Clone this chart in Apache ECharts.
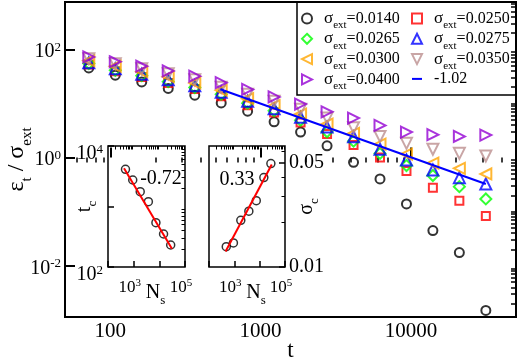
<!DOCTYPE html>
<html>
<head>
<meta charset="utf-8">
<title>eps_t / sigma_ext vs t</title>
<script src="https://cdn.jsdelivr.net/npm/echarts@6/dist/echarts.min.js"></script>
<style>
  html, body { margin: 0; padding: 0; background: #fff; }
  #main { width: 518px; height: 359px; }
</style>
</head>
<body>
<div id="main"></div>
<script>
  // main plot: eps_t / sigma_ext against t, one array per sigma_ext run
  var tSteps = [72, 108, 162, 243, 365, 547, 820, 1230, 1845, 2768, 4152, 6228, 9342, 14000, 21000, 31500];
  var eps0140 = [45.2, 33.2, 24.9, 18.9, 14.2, 10.2, 7.2, 4.57, 2.95, 1.65, 0.816, 0.402, 0.139, 0.0448, 0.0176, 0.0015];
  var eps0250 = [52.2, 39.3, 30.9, 23.9, 18.5, 13.6, 9.29, 6.81, 4.45, 2.71, 1.70, 1.0, 0.564, 0.277, 0.160, 0.0835];
  var eps0265 = [54.5, 41.0, 32.5, 25.2, 19.7, 14.8, 10.1, 7.35, 4.91, 2.99, 2.01, 1.19, 0.712, 0.466, 0.290, 0.172];
  var eps0275 = [56.4, 43.7, 34.6, 27.4, 21.1, 16.1, 11.0, 8.0, 5.58, 3.65, 2.42, 1.42, 0.90, 0.589, 0.425, 0.325];
  var eps0300 = [61.4, 48.6, 38.5, 31.1, 23.9, 17.5, 12.2, 9.09, 6.34, 4.15, 2.79, 1.77, 1.16, 0.792, 0.632, 0.497];
  var eps0350 = [66.8, 54.0, 43.7, 35.3, 27.4, 19.9, 14.8, 11.0, 7.83, 5.35, 3.57, 2.46, 1.83, 1.43, 1.195, 1.066];
  var eps0400 = [72.1, 58.8, 48.6, 39.8, 31.8, 24.1, 18.1, 13.2, 9.7, 6.98, 5.35, 3.92, 2.95, 2.65, 2.46, 2.60];
  // power-law guide, slope -1.02 (end points)
  var fitT = [540, 31500];
  var fitEps = [18.3, 0.325];

  // insets: t_c and sigma_c against N_s
  var nS = [480, 920, 1800, 3740, 7360, 14600, 27700];
  var tC = [4120, 2740, 1760, 1200, 540, 351, 231];
  var sigmaC = [0.0137, 0.0145, 0.0206, 0.0237, 0.0279, 0.0399, 0.0495];
  var tcFitN = [420, 31000];
  var tcFitT = [4280, 200];
  var scFitN = [450, 30000];
  var scFitS = [0.0127, 0.0488];

  // tick values
  var mainXMajor = [100, 1000, 10000];
  var mainYMajor = [0.01, 1, 100];
  var insetXMajor = [100, 1000, 10000, 100000];
  var insetXLabels = [1000, 100000];
  var tcMajor = [100, 1000, 10000];
  var tcLabels = [100, 10000];
  var scMajor = [0.01, 0.05];
  var scMinor = [0.02, 0.03, 0.04, 0.06];

  var FONT = "'Liberation Serif', 'DejaVu Serif', serif";
  // hollow triangles pointing left / right / down
  var TRI_LEFT = 'path://M10,0L0,5L10,10Z';
  var TRI_RIGHT = 'path://M0,0L10,5L0,10Z';
  var TRI_DOWN = 'path://M0,0L10,0L5,10Z';

  function lg(v) { return Math.log10(v); }
  function pairs(xs, ys) {
    return xs.map(function(x, i) { return [lg(x), lg(ys[i])]; });
  }
  // k x 10^n ticks inside [lo, hi] (log units)
  function logTicks(lo, hi) {
    var out = [];
    for (var e = Math.floor(lo); e <= Math.ceil(hi); e++) {
      for (var k = 1; k < 10; k++) {
        var v = e + Math.log10(k);
        if (v >= lo - 1e-9 && v <= hi + 1e-9) out.push(v);
      }
    }
    return out;
  }
  function notIn(majors) {
    var m = majors.map(lg);
    return function(v) {
      return m.every(function(x) { return Math.abs(x - v) > 1e-6; });
    };
  }
  function supLabel(v) {
    return '{b|10}{p|' + Math.round(v) + '}';
  }
  function supRich(big, small) {
    return {
      b: { fontFamily: FONT, fontSize: big, lineHeight: big + 2, color: '#000' },
      p: { fontFamily: FONT, fontSize: small, lineHeight: small, verticalAlign: 'top', color: '#000' }
    };
  }
  // main text + lowered subscript
  function subRich(big, small, lh) {
    return {
      n: { fontFamily: FONT, fontSize: big, lineHeight: lh, color: '#000' },
      s: { fontFamily: FONT, fontSize: small, lineHeight: small, verticalAlign: 'bottom', color: '#000' }
    };
  }

  var yLo = -2.945, yHi = 2.873;
  var xLo = lg(50), xHi = lg(50000);

  function plainAxis(g, lo, hi) {
    return {
      type: 'value', gridIndex: g, min: lo, max: hi,
      axisLine: { show: false }, splitLine: { show: false },
      nameMoveOverlap: false
    };
  }

  var xAxes = [];
  var yAxes = [];

  // main x
  var ax = plainAxis(0, xLo, xHi);
  ax.axisTick = { inside: true, length: 10, lineStyle: { color: '#000', width: 2 }, customValues: mainXMajor.map(lg) };
  ax.axisLabel = { customValues: mainXMajor.map(lg), margin: 4, fontFamily: FONT, fontSize: 21, color: '#000',
    formatter: function(v) { return String(Math.round(Math.pow(10, v))); } };
  ax.name = 't';
  ax.nameLocation = 'middle';
  ax.nameGap = 22;
  ax.nameTextStyle = { fontFamily: FONT, fontSize: 23, color: '#000' };
  xAxes.push(ax);
  ax = plainAxis(0, xLo, xHi);
  ax.axisLabel = { show: false };
  ax.axisTick = { inside: true, length: 5, lineStyle: { color: '#000', width: 1.5 },
    customValues: logTicks(xLo, xHi).filter(notIn(mainXMajor)) };
  xAxes.push(ax);

  // main y
  ax = plainAxis(0, yLo, yHi);
  ax.axisTick = { inside: true, length: 10, lineStyle: { color: '#000', width: 2 }, customValues: mainYMajor.map(lg) };
  ax.axisLabel = { customValues: mainYMajor.map(lg), margin: 4, formatter: supLabel, rich: supRich(20, 13),
    padding: [5, 0, 0, 0] };
  ax.name = '{n|ε}{s|t}{n| / σ}{s|ext}';
  ax.nameLocation = 'middle';
  ax.nameRotate = 90;
  ax.nameGap = 30;
  ax.nameTextStyle = { rich: subRich(24, 15, 36) };
  yAxes.push(ax);
  ax = plainAxis(0, yLo, yHi);
  ax.axisLabel = { show: false };
  ax.axisTick = { inside: true, length: 5, lineStyle: { color: '#000', width: 1.5 },
    customValues: logTicks(yLo, yHi).filter(notIn(mainYMajor)) };
  yAxes.push(ax);

  // insets: grid 1 = t_c, grid 2 = sigma_c, same N_s axis
  [1, 2].forEach(function(g) {
    var a = plainAxis(g, 2, 5);
    a.axisTick = { inside: true, length: 6, lineStyle: { color: '#000', width: 1.5 }, customValues: insetXMajor.map(lg) };
    a.axisLabel = { customValues: insetXLabels.map(lg), margin: 11, formatter: supLabel, rich: supRich(17, 11),
      padding: [0, 8, 0, 0] };
    a.name = '{n|N}{s|s}';
    a.nameLocation = 'middle';
    a.nameGap = 12;
    a.nameTextStyle = { rich: subRich(20, 13, 28), padding: [0, 0, 0, 18] };
    xAxes.push(a);
    a = plainAxis(g, 2, 5);
    a.axisLabel = { show: false };
    a.axisTick = { inside: true, length: 3.5, lineStyle: { color: '#000', width: 1 },
      customValues: logTicks(2, 5).filter(notIn(insetXMajor)) };
    xAxes.push(a);
  });

  ax = plainAxis(1, 2, 4);
  ax.axisTick = { inside: true, length: 6, lineStyle: { color: '#000', width: 1.5 }, customValues: tcMajor.map(lg) };
  ax.axisLabel = { customValues: tcLabels.map(lg), margin: 5, formatter: supLabel, rich: supRich(20, 13),
    padding: [16, 0, 0, 0] };
  ax.name = '{n|t}{s|c}';
  ax.nameLocation = 'middle';
  ax.nameRotate = 90;
  ax.nameGap = 9;
  ax.nameTextStyle = { rich: subRich(20, 13, 28) };
  yAxes.push(ax);
  ax = plainAxis(1, 2, 4);
  ax.axisLabel = { show: false };
  ax.axisTick = { inside: true, length: 3.5, lineStyle: { color: '#000', width: 1 },
    customValues: logTicks(2, 4).filter(notIn(tcMajor)) };
  yAxes.push(ax);

  var scLo = lg(0.01), scHi = lg(0.065);
  ax = plainAxis(2, scLo, scHi);
  ax.position = 'right';
  ax.axisTick = { inside: true, length: 6, lineStyle: { color: '#000', width: 1.5 }, customValues: scMajor.map(lg) };
  ax.axisLabel = { customValues: scMajor.map(lg), margin: 4, fontFamily: FONT, fontSize: 20, color: '#000',
    padding: [4, 0, 0, 0], formatter: function(v) { return Math.pow(10, v).toFixed(2); } };
  ax.name = '{n|σ}{s|c}';
  ax.nameLocation = 'middle';
  ax.nameRotate = 90;
  ax.nameGap = 8;
  ax.nameTextStyle = { rich: subRich(20, 13, 28) };
  yAxes.push(ax);
  ax = plainAxis(2, scLo, scHi);
  ax.position = 'right';
  ax.axisLabel = { show: false };
  ax.axisTick = { inside: true, length: 3.5, lineStyle: { color: '#000', width: 1 }, customValues: scMinor.map(lg) };
  yAxes.push(ax);

  function runSeries(name, ys, symbol, size, color) {
    return {
      type: 'scatter', name: name, xAxisIndex: 0, yAxisIndex: 0,
      data: pairs(tSteps, ys), symbol: symbol, symbolSize: size,
      itemStyle: { color: 'rgba(0,0,0,0)', borderColor: color, borderWidth: 2 },
      silent: true
    };
  }

  var series = [
    runSeries('0.0140', eps0140, 'circle', 9, '#000000'),
    runSeries('0.0250', eps0250, 'rect', 8, '#ff0000'),
    runSeries('0.0265', eps0265, 'diamond', 11, '#00ff00'),
    runSeries('0.0275', eps0275, 'triangle', 11, '#0000ff'),
    runSeries('0.0300', eps0300, TRI_LEFT, 11, '#ffa500'),
    runSeries('0.0350', eps0350, TRI_DOWN, 11, '#bc8f8f'),
    runSeries('0.0400', eps0400, TRI_RIGHT, 11, '#9400d3'),
    {
      type: 'line', name: '-1.02', xAxisIndex: 0, yAxisIndex: 0,
      data: pairs(fitT, fitEps), symbol: 'none',
      lineStyle: { color: '#0000ff', width: 2 }, silent: true
    },
    {
      type: 'line', name: 'tcFit', xAxisIndex: 2, yAxisIndex: 2,
      data: pairs(tcFitN, tcFitT), symbol: 'none',
      lineStyle: { color: '#ff0000', width: 2 }, silent: true
    },
    {
      type: 'scatter', name: 'tc', xAxisIndex: 2, yAxisIndex: 2,
      data: pairs(nS, tC), symbol: 'circle', symbolSize: 8,
      itemStyle: { color: 'rgba(0,0,0,0)', borderColor: '#000', borderWidth: 1.5 }, silent: true
    },
    {
      type: 'line', name: 'scFit', xAxisIndex: 4, yAxisIndex: 4,
      data: pairs(scFitN, scFitS), symbol: 'none',
      lineStyle: { color: '#ff0000', width: 2 }, silent: true
    },
    {
      type: 'scatter', name: 'sc', xAxisIndex: 4, yAxisIndex: 4,
      data: pairs(nS, sigmaC), symbol: 'circle', symbolSize: 8,
      itemStyle: { color: 'rgba(0,0,0,0)', borderColor: '#000', borderWidth: 1.5 }, silent: true
    }
  ];

  function legendText(name) {
    if (name === '-1.02') return '{m|-1.02}';
    return '{g|σ}{e|ext}{m|=' + name + '}';
  }
  var legendRich = {
    g: { fontFamily: FONT, fontSize: 17, lineHeight: 25, color: '#000' },
    e: { fontFamily: FONT, fontSize: 11, lineHeight: 11, verticalAlign: 'bottom', color: '#000' },
    m: { fontFamily: FONT, fontSize: 16, lineHeight: 25, color: '#000' }
  };
  function legendCol(left, names) {
    return {
      orient: 'vertical', left: left, top: 10, padding: 0, itemGap: -0.7,
      itemWidth: 10, itemHeight: 10, selectedMode: false,
      data: names.map(function(n) {
        if (n === '-1.02') return { name: n, itemStyle: { color: 'rgba(0,0,0,0)', borderWidth: 0 } };
        return { name: n };
      }),
      formatter: legendText,
      textStyle: { rich: legendRich, padding: [0, 0, 0, 7] }
    };
  }

  var chart = echarts.init(document.getElementById('main'), null, { renderer: 'canvas' });
  chart.setOption({
    animation: false,
    backgroundColor: '#fff',
    grid: [
      { left: 65, top: 2, width: 451, height: 315, outerBoundsMode: 'none', show: true,
        borderColor: '#000', borderWidth: 2, backgroundColor: 'rgba(0,0,0,0)' },
      { left: 108, top: 146, width: 77, height: 121, outerBoundsMode: 'none', show: true,
        borderColor: '#000', borderWidth: 1.5, backgroundColor: '#fff' },
      { left: 209, top: 146, width: 76, height: 121, outerBoundsMode: 'none', show: true,
        borderColor: '#000', borderWidth: 1.5, backgroundColor: '#fff' }
    ],
    xAxis: xAxes,
    yAxis: yAxes,
    legend: [
      legendCol(301, ['0.0140', '0.0265', '0.0300', '0.0400']),
      legendCol(411, ['0.0250', '0.0275', '0.0350', '-1.02'])
    ],
    graphic: [
      { type: 'rect', silent: true, z: 10, shape: { x: 297, y: 2, width: 219, height: 93 },
        style: { fill: 'none', stroke: '#000', lineWidth: 1.5 } },
      { type: 'text', silent: true, z: 10, x: 161, y: 179,
        style: { text: '-0.72', fontFamily: FONT, fontSize: 20, fill: '#000', align: 'center', verticalAlign: 'middle' } },
      { type: 'text', silent: true, z: 10, x: 237, y: 180,
        style: { text: '0.33', fontFamily: FONT, fontSize: 20, fill: '#000', align: 'center', verticalAlign: 'middle' } }
    ],
    series: series
  });
</script>
</body>
</html>
